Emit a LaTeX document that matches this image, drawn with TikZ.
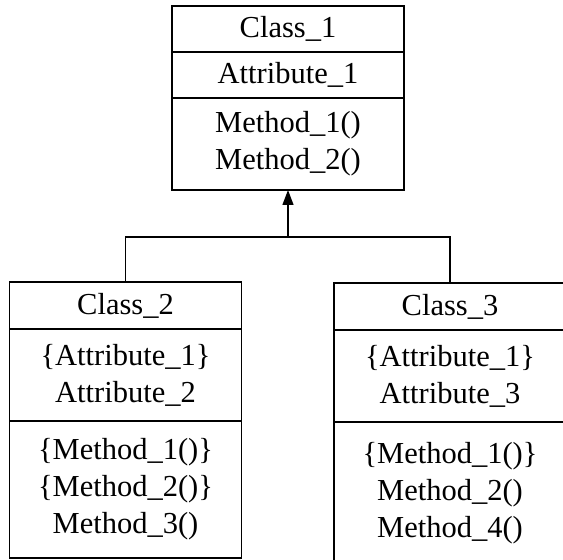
\documentclass[tikz,border=0pt]{standalone}
\usepackage{fontspec}
\setmainfont{Liberation Serif}
\usetikzlibrary{positioning,arrows.meta}

\tikzset{
    part/.style={draw, line width=1.3pt, minimum width=232pt, inner sep=0pt,
        outer sep=0pt, align=center, font=\fontsize{30.5}{37}\selectfont}
}

\begin{document}
\begin{tikzpicture}[x=1pt,y=1pt]
    \useasboundingbox (0,0) rectangle (563,560);
    
    %superclass
    \node[part, minimum height=46pt] (C1) at (288,531) {Class\_1};
    \node[part, minimum height=46pt, below=0pt of C1] (A1) {Attribute\_1};
    \node[part, minimum height=92pt, below=0pt of A1] (M1) {Method\_1()\\Method\_2()};
    
    %subclasses
    \node[part, minimum height=47pt] (C2) at (125.5,254.5) {Class\_2};
    \node[part, minimum height=92pt, below=0pt of C2] (A2) {\{Attribute\_1\}\\Attribute\_2};
    \node[part, minimum height=137pt, below=0pt of A2] (M2)
        {\{Method\_1()\}\\\{Method\_2()\}\\Method\_3()};
    
    %right box runs past the page edge
    \node[part, minimum height=47pt, minimum width=240pt] (C3) at (454,253.5)
        {\hspace*{-8pt}Class\_3};
    \node[part, minimum height=92pt, minimum width=240pt, below=0pt of C3] (A3)
        {\hspace*{-8pt}\{Attribute\_1\}\\\hspace*{-8pt}Attribute\_3};
    \node[part, minimum height=142pt, minimum width=240pt, below=0pt of A3] (M3)
        {\hspace*{-8pt}\{Method\_1()\}\\\hspace*{-8pt}Method\_2()\\\hspace*{-8pt}Method\_4()};
    
    %inheritance
    \coordinate (J) at ([yshift=-47pt]M1.south);
    \draw[line width=1.3pt] (C2.north) |- (J) -| ([xshift=-4pt]C3.north);
    \draw[line width=1.3pt, -{Triangle[length=15pt,width=11pt]}] (J) -- (M1.south);
\end{tikzpicture}
\end{document}
